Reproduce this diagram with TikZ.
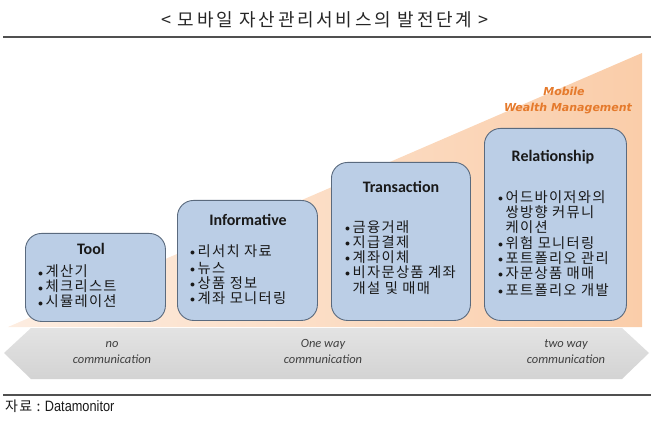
\documentclass[tikz,border=0pt]{standalone}
\usepackage{fontspec}
\newfontfamily\kr{Noto Sans CJK KR}
\newfontfamily\krwide[LetterSpace=9]{Noto Sans CJK KR}
\newfontfamily\krtitle[LetterSpace=15]{Noto Sans CJK KR}
\newfontfamily\calfont{Carlito}
\newfontfamily\dvs{DejaVu Sans}
\newfontfamily\srcfont[FakeStretch=0.85]{Liberation Sans}
\definecolor{boxfill}{HTML}{BBCEE6}
\definecolor{boxline}{HTML}{5A6A7E}
\definecolor{peachA}{HTML}{FDEDE1}
\definecolor{peachB}{HTML}{FACDA9}
\definecolor{grayA}{HTML}{E3E3E3}
\definecolor{grayB}{HTML}{D3D3D3}
\definecolor{mwm}{HTML}{E57A2C}
\definecolor{rulec}{HTML}{505050}
\newcommand\bul{\makebox[7.5pt][l]{\raisebox{1pt}{$\scriptstyle\bullet$}}}
\newcommand\nobul{\makebox[7.5pt][l]{}}
\tikzset{
  stagebox/.style={draw=boxline, line width=0.9pt, fill=boxfill, rounded corners=16pt, inner sep=0pt, anchor=north west},
  stagetitle/.style={font=\calfont\bfseries\fontsize{16}{18}\selectfont, anchor=base, inner sep=0pt, text=black!90},
  itemtext/.style={font=\krwide\fontsize{14.3}{15.5}\selectfont, anchor=base west, inner sep=0pt, text=black!90},
  commlabel/.style={font=\calfont\itshape\fontsize{12.5}{14}\selectfont, anchor=base, inner sep=0pt, text=black!75},
  mwmlabel/.style={font=\dvs\bfseries\itshape\fontsize{11}{12}\selectfont, anchor=base, inner sep=0pt, text=mwm},
}
\begin{document}
\begin{tikzpicture}[x=1pt,y=-1pt]
\useasboundingbox (0,0) rectangle (651,422);
% title and rules
\node[font=\krtitle\fontsize{18}{20}\selectfont, anchor=base, inner sep=0pt, text=black!85] (title) at (325,27) {< 모바일 자산관리서비스의 발전단계 >};
\draw[rulec, line width=1.2pt] (3,37) -- (651,37);
\draw[rulec, line width=1.2pt] (3,395) -- (651,395);
% growth triangle
\shade[left color=peachA, right color=peachB] (8,327) -- (642,53) -- (642,327) -- cycle;
% communication arrow
\shade[top color=grayA, bottom color=grayB] (4,353) -- (31,328) -- (622,328) -- (649,353) -- (622,379) -- (31,379) -- cycle;
% boxes
\node[stagebox, minimum width=140pt, minimum height=88pt] (tool) at (25,233) {};
\node[stagebox, minimum width=140pt, minimum height=120pt] (info) at (177,200) {};
\node[stagebox, minimum width=139pt, minimum height=158pt] (trans) at (331,162) {};
\node[stagebox, minimum width=142pt, minimum height=192pt] (rel) at (484,128) {};
% box titles
\node[stagetitle] (tooltitle) at (91,255) {Tool};
\node[stagetitle] (infotitle) at (248,226) {Informative};
\node[stagetitle] (transtitle) at (401,193) {Transaction};
\node[stagetitle] (reltitle) at (553,162) {Relationship};
% Tool items
\node[itemtext] (tool1) at (38,277) {\bul 계산기};
\node[itemtext] (tool2) at (38,292) {\bul 체크리스트};
\node[itemtext] (tool3) at (38,307) {\bul 시뮬레이션};
% Informative items
\node[itemtext] (info1) at (190,257) {\bul 리서치 자료};
\node[itemtext] (info2) at (190,273) {\bul 뉴스};
\node[itemtext] (info3) at (190,288) {\bul 상품 정보};
\node[itemtext] (info4) at (190,303) {\bul 계좌 모니터링};
% Transaction items
\node[itemtext] (trans1) at (345,233) {\bul 금융거래};
\node[itemtext] (trans2) at (345,248) {\bul 지급결제};
\node[itemtext] (trans3) at (345,263) {\bul 계좌이체};
\node[itemtext] (trans4) at (345,278) {\bul 비자문상품 계좌};
\node[itemtext] (trans5) at (345,294) {\nobul 개설 및 매매};
% Relationship items
\node[itemtext] (rel1) at (498,203) {\bul 어드바이저와의};
\node[itemtext] (rel2) at (498,218) {\nobul 쌍방향 커뮤니};
\node[itemtext] (rel3) at (498,233) {\nobul 케이션};
\node[itemtext] (rel4) at (498,249) {\bul 위험 모니터링};
\node[itemtext] (rel5) at (498,264) {\bul 포트폴리오 관리};
\node[itemtext] (rel6) at (498,279) {\bul 자문상품 매매};
\node[itemtext] (rel7) at (498,295) {\bul 포트폴리오 개발};
% Mobile Wealth Management
\node[mwmlabel] (mwm1) at (564,96) {Mobile};
\node[mwmlabel] (mwm2) at (568,112) {Wealth Management};
% communication labels
\node[commlabel] (noA) at (112,348) {no};
\node[commlabel] (noB) at (112,363) {communication};
\node[commlabel] (oneA) at (323,348) {One way};
\node[commlabel] (oneB) at (323,363) {communication};
\node[commlabel] (twoA) at (566,348) {two way};
\node[commlabel] (twoB) at (566,363) {communication};
% source
\node[anchor=base west, inner sep=0pt, text=black!90] (source) at (5,411) {{\krwide\fontsize{14}{15}\selectfont 자료 :} {\srcfont\fontsize{15}{16}\selectfont Datamonitor}};
\end{tikzpicture}
\end{document}
